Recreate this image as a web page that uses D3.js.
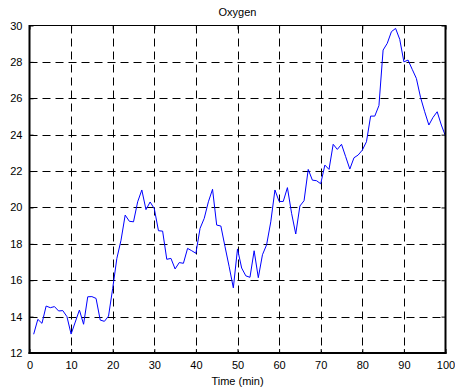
<!DOCTYPE html>
<html>
<head>
<meta charset="utf-8">
<script src="https://cdn.jsdelivr.net/npm/d3@7"></script>
<style>
  html, body { margin: 0; padding: 0; background: #fff; }
  svg { display: block; }
  text { font-family: "Liberation Sans", Arial, Helvetica, sans-serif; fill: #000; }
</style>
</head>
<body>
<svg id="chart" width="455" height="389"></svg>
<script>
// ---- data ----
const chartTitle = "Oxygen";
const xLabel = "Time (min)";
const xTicks = [0, 10, 20, 30, 40, 50, 60, 70, 80, 90, 100];
const yTicks = [12, 14, 16, 18, 20, 22, 24, 26, 28, 30];
const times = d3.range(1, 101);
const oxygen = [
  13.03, 13.85, 13.63, 14.58, 14.49, 14.55, 14.31, 14.33, 14.00, 13.04,
  13.70, 14.36, 13.58, 15.09, 15.10, 15.00, 13.81, 13.74, 14.03, 15.55,
  17.20, 18.20, 19.58, 19.24, 19.21, 20.31, 20.96, 19.88, 20.30, 19.93,
  18.72, 18.70, 17.15, 17.20, 16.62, 16.97, 16.93, 17.75, 17.62, 17.48,
  18.85, 19.40, 20.31, 21.00, 19.03, 18.98, 17.84, 16.74, 15.58, 17.72,
  16.67, 16.24, 16.16, 17.62, 16.14, 17.40, 17.95, 19.21, 20.96, 20.33,
  20.33, 21.09, 19.68, 18.54, 20.08, 20.37, 22.09, 21.50, 21.47, 21.30,
  22.33, 22.09, 23.47, 23.19, 23.47, 22.79, 22.11, 22.73, 22.88, 23.15,
  23.61, 25.02, 25.02, 25.60, 28.65, 29.02, 29.66, 29.84, 29.24, 28.00,
  28.10, 27.59, 27.09, 26.05, 25.26, 24.53, 24.95, 25.26, 24.53, 23.92
];

// ---- layout ----
const svg = d3.select("#chart");
const L = 29.5, R = 445.5, T = 25.5, B = 353;
const x = d3.scaleLinear().domain([0, 100]).range([L, R]);
const y = d3.scaleLinear().domain([12, 30]).range([B, T]);

// grid
const grid = svg.append("g").attr("stroke", "#000").attr("stroke-width", 1)
  .attr("stroke-dasharray", "8,5").attr("fill", "none");
grid.selectAll("line.v").data(xTicks.slice(1, -1)).join("line")
  .attr("x1", d => Math.round(x(d)) + 0.5).attr("x2", d => Math.round(x(d)) + 0.5)
  .attr("y1", T).attr("y2", B);
grid.selectAll("line.h").data(yTicks.slice(1, -1)).join("line")
  .attr("y1", d => Math.round(y(d)) + 0.5).attr("y2", d => Math.round(y(d)) + 0.5)
  .attr("x1", L).attr("x2", R);

// axes (MATLAB style, ticks inward)
const xAxisB = d3.axisBottom(x).tickValues(xTicks).tickSizeInner(-4).tickSizeOuter(0).tickPadding(8);
const xAxisT = d3.axisTop(x).tickValues(xTicks).tickSizeInner(-4).tickSizeOuter(0).tickFormat("");
const yAxisL = d3.axisLeft(y).tickValues(yTicks).tickSizeInner(-4).tickSizeOuter(0).tickPadding(7);
const yAxisR = d3.axisRight(y).tickValues(yTicks).tickSizeInner(-4).tickSizeOuter(0).tickFormat("");

function style(g) {
  g.select(".domain").remove();
  g.selectAll(".tick line").attr("stroke", "#000");
  g.selectAll(".tick text").attr("font-size", 11).attr("fill", "#000")
    .attr("font-family", "'Liberation Sans', Arial, sans-serif");
}
svg.append("g").attr("transform", `translate(0,${B})`).call(xAxisB).call(style);
svg.append("g").attr("transform", `translate(0,${T})`).call(xAxisT).call(style);
svg.append("g").attr("transform", `translate(${L},0)`).call(yAxisL).call(style);
svg.append("g").attr("transform", `translate(${R},0)`).call(yAxisR).call(style);

// line
const line = d3.line().x((d, i) => x(times[i])).y(d => y(d));
svg.append("path").datum(oxygen)
  .attr("d", line).attr("fill", "none").attr("stroke", "#0000ff").attr("stroke-width", 1);

// box
svg.append("line").attr("x1", L).attr("x2", R).attr("y1", T).attr("y2", T).attr("stroke", "#000").attr("stroke-width", 1);
svg.append("line").attr("x1", L).attr("x2", L).attr("y1", T - 0.5).attr("y2", B + 1).attr("stroke", "#000").attr("stroke-width", 2);
svg.append("line").attr("x1", L - 1).attr("x2", R + 1).attr("y1", B).attr("y2", B).attr("stroke", "#000").attr("stroke-width", 2);
svg.append("line").attr("x1", R).attr("x2", R).attr("y1", T - 0.5).attr("y2", B + 1).attr("stroke", "#000").attr("stroke-width", 2);

// labels
svg.append("text").attr("x", (L + R) / 2).attr("y", 16).attr("text-anchor", "middle")
  .attr("font-size", 11).text(chartTitle);
svg.append("text").attr("x", (L + R) / 2).attr("y", 385).attr("text-anchor", "middle")
  .attr("font-size", 11).text(xLabel);
</script>
</body>
</html>
